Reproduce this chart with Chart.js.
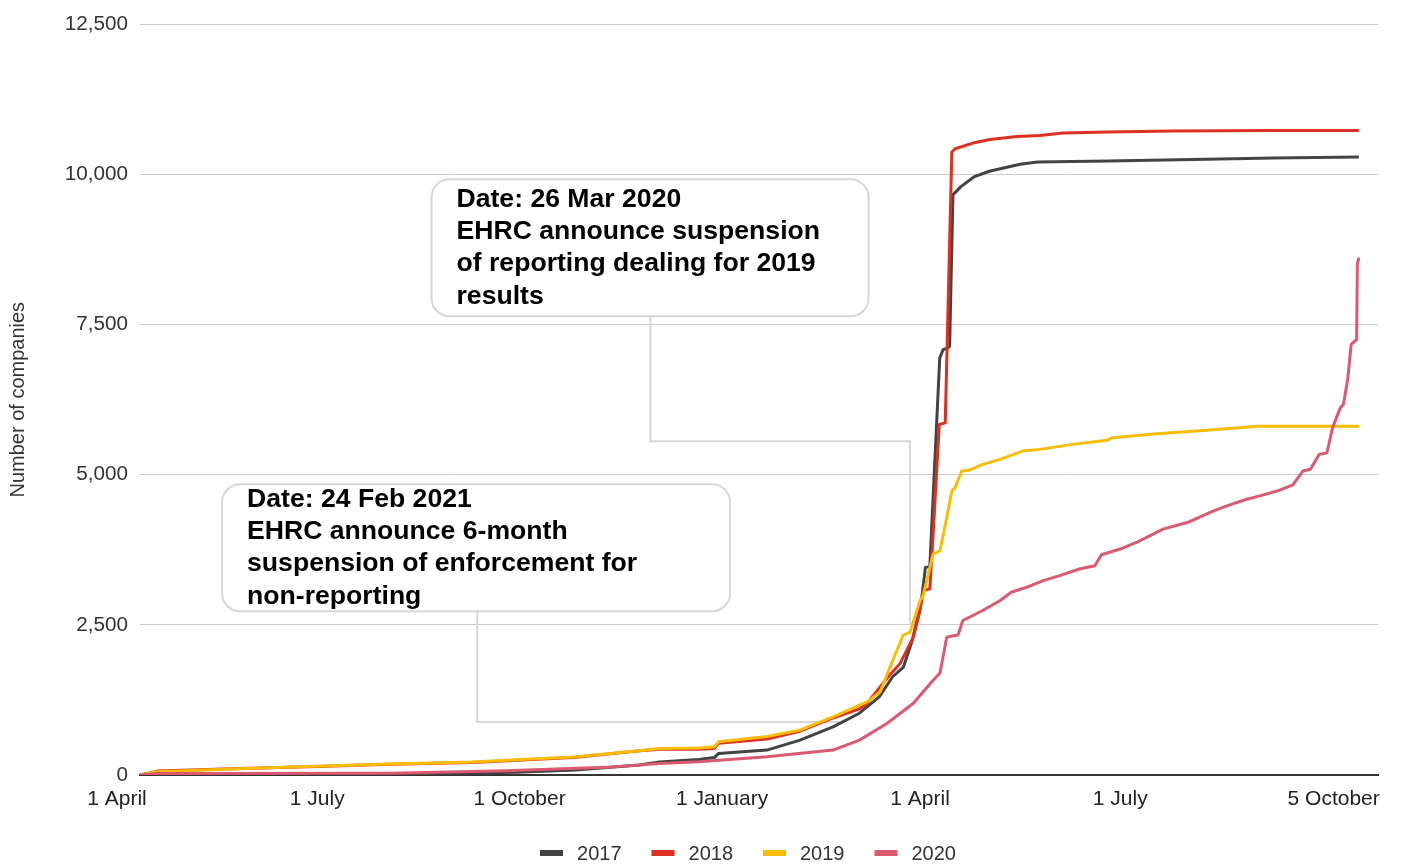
<!DOCTYPE html>
<html>
<head>
<meta charset="utf-8">
<title>Companies reporting by year</title>
<script src="https://cdn.jsdelivr.net/npm/chart.js@4.4.1/dist/chart.umd.min.js"></script>
<style>
  body { margin: 0; background: #fff; }
  canvas { display: block; }
</style>
</head>
<body>
<canvas id="chart" width="1401" height="865"></canvas>
<script>
// Days since 1 April of the reporting year, and running total of companies that had reported
const days2017 = [0, 20, 114, 171, 198, 227, 236, 254, 261, 263, 285, 300, 315, 327, 336, 342, 347, 351, 355, 357, 359, 363.5, 365, 367, 368, 369.5, 373, 379, 386, 400, 408, 440, 485, 515, 554];
const count2017 = [0, 5, 15, 45, 85, 166, 215, 260, 290, 360, 415, 581, 802, 1029, 1300, 1632, 1798, 2241, 2855, 3458, 3470, 6944, 7083, 7110, 7140, 9661, 9794, 9960, 10055, 10172, 10209, 10226, 10254, 10276, 10292];

const days2018 = [0, 8, 38, 76, 114, 151, 171, 197, 226, 236, 254, 261, 263, 285, 300, 315, 327, 330.5, 339.5, 345.5, 351.5, 354.5, 356, 359, 360.5, 363.3, 366, 369, 370.5, 378.6, 386.4, 398.6, 409, 419.5, 439.5, 469.5, 515, 554];
const count2018 = [0, 65, 100, 138, 177, 210, 245, 290, 400, 430, 430, 440, 530, 600, 730, 950, 1100, 1195, 1610, 1859, 2296, 2739, 3071, 3099, 4017, 5838, 5865, 10375, 10430, 10524, 10585, 10634, 10651, 10690, 10707, 10723, 10734, 10734];

const days2019 = [0, 8, 38, 76, 114, 151, 171, 197, 226, 236, 254, 261, 263, 285, 300, 315, 330.5, 336.4, 340.9, 346.8, 350, 354.5, 356, 360.5, 363.6, 366.7, 369, 370.5, 373.5, 376.8, 383, 391, 401, 409, 424, 439.5, 442, 462, 485, 508, 554];
const count2019 = [0, 55, 95, 140, 183, 215, 255, 300, 400, 443, 450, 465, 553, 640, 747, 968, 1217, 1383, 1798, 2324, 2379, 2900, 2990, 3680, 3735, 4288, 4731, 4786, 5063, 5074, 5174, 5257, 5395, 5423, 5506, 5573, 5617, 5684, 5740, 5810, 5810];

const days2020 = [0, 8, 114, 166, 212, 236, 254, 285, 315, 327, 339.5, 351.4, 360.5, 363.6, 366.7, 370.5, 371.8, 374, 383, 391, 396, 403, 410.5, 418, 427, 434, 437, 445.5, 454.5, 465, 476, 488, 494, 503, 509, 518, 524, 528.6, 532, 536, 539.5, 542, 545.5, 547, 549, 550.5, 553, 553.3, 554];
const count2020 = [0, 25, 30, 72, 127, 193, 221, 304, 415, 581, 858, 1190, 1577, 1700, 2296, 2324, 2330, 2573, 2739, 2905, 3043, 3126, 3237, 3320, 3431, 3486, 3669, 3763, 3901, 4095, 4205, 4399, 4482, 4593, 4648, 4743, 4831, 5063, 5091, 5340, 5367, 5777, 6110, 6175, 6612, 7171, 7254, 8500, 8615];

const tickDays = [0, 91, 183, 275, 365, 456, 553];
const tickLabels = ['1 April', '1 July', '1 October', '1 January', '1 April', '1 July', '5 October'];

const FONT = '"Liberation Sans", Arial, sans-serif';
Chart.defaults.font.family = FONT;

// Callout boxes with an elbow connector down to the curve
const callouts = [
  {
    lines: ['Date: 26 Mar 2020', 'EHRC announce suspension', 'of reporting dealing for 2019', 'results'],
    box: { day: 132.5, count: 9920, width: 437, height: 137 },
    stemDay: 232, elbowCount: 5560,
    target: { day: 350, count: 2500 }
  },
  {
    lines: ['Date: 24 Feb 2021', 'EHRC announce 6-month', 'suspension of enforcement for', 'non-reporting'],
    box: { day: 37.3, count: 4842, width: 508, height: 127 },
    stemDay: 153.3, elbowCount: 883,
    target: { day: 318, count: 883 }
  }
];

function points(days, counts) {
  return days.map((d, i) => ({ x: d, y: counts[i] }));
}

const calloutPlugin = {
  id: 'callouts',
  beforeDatasetsDraw(chart) {
    const { ctx } = chart;
    const xs = chart.scales.x;
    const ys = chart.scales.y;
    ctx.save();
    callouts.forEach(c => {
      const left = xs.getPixelForValue(c.box.day);
      const top = ys.getPixelForValue(c.box.count);
      const stemX = xs.getPixelForValue(c.stemDay);
      const elbowY = ys.getPixelForValue(c.elbowCount);
      const tx = xs.getPixelForValue(c.target.day);
      const ty = ys.getPixelForValue(c.target.count);

      ctx.strokeStyle = '#d6d6d6';
      ctx.lineWidth = 2;
      ctx.beginPath();
      ctx.moveTo(stemX, top + c.box.height);
      ctx.lineTo(stemX, elbowY);
      ctx.lineTo(tx, elbowY);
      ctx.lineTo(tx, ty);
      ctx.stroke();

      ctx.beginPath();
      ctx.roundRect(left, top, c.box.width, c.box.height, 18);
      ctx.fillStyle = '#fff';
      ctx.fill();
      ctx.stroke();

      ctx.fillStyle = '#000';
      ctx.font = 'bold 26.6px ' + FONT;
      ctx.textBaseline = 'middle';
      ctx.textAlign = 'left';
      const lineH = 32.3;
      const firstY = top + c.box.height / 2 - lineH * (c.lines.length - 1) / 2;
      c.lines.forEach((t, i) => ctx.fillText(t, left + 25, firstY + i * lineH));
    });
    ctx.restore();
  }
};

// Legend row under the axis: short thick swatch then the year
const legendPlugin = {
  id: 'bottomLegend',
  afterDraw(chart) {
    const { ctx, chartArea } = chart;
    ctx.save();
    ctx.font = '20px ' + FONT;
    ctx.textBaseline = 'middle';
    ctx.textAlign = 'left';
    const items = chart.data.datasets.map(ds => ({
      label: ds.label,
      color: ds.borderColor,
      w: 23 + 14 + ctx.measureText(ds.label).width
    }));
    const gap = 30;
    const total = items.reduce((s, it) => s + it.w, 0) + gap * (items.length - 1);
    let x = (chartArea.left + chartArea.right) / 2 - 11 - total / 2;
    const y = 853;
    items.forEach(it => {
      ctx.fillStyle = it.color;
      ctx.fillRect(x, y - 3, 23, 6);
      ctx.fillStyle = '#333';
      ctx.fillText(it.label, x + 37, y + 1);
      x += it.w + gap;
    });
    ctx.restore();
  }
};

new Chart(document.getElementById('chart'), {
  type: 'line',
  data: {
    datasets: [
      { label: '2017', data: points(days2017, count2017), borderColor: '#434343', order: 4 },
      { label: '2018', data: points(days2018, count2018), borderColor: '#dc3020', order: 3 },
      { label: '2019', data: points(days2019, count2019), borderColor: '#fbbc04', order: 2 },
      { label: '2020', data: points(days2020, count2020), borderColor: '#db5a70', order: 1 }
    ]
  },
  options: {
    responsive: false,
    animation: false,
    layout: { padding: { top: 22, right: 23, bottom: 0, left: 0 } },
    elements: {
      line: { borderWidth: 3, tension: 0, borderJoinStyle: 'round' },
      point: { radius: 0 }
    },
    plugins: {
      legend: { display: false },
      tooltip: { enabled: false }
    },
    scales: {
      x: {
        type: 'linear',
        min: 0,
        max: 562.7,
        afterBuildTicks: scale => { scale.ticks = tickDays.map(v => ({ value: v })); },
        afterFit: scale => { scale.height = 90; scale.paddingLeft = 0; scale.paddingRight = 0; },
        grid: { display: false, drawTicks: false },
        border: { color: '#333', width: 2 },
        ticks: {
          autoSkip: false,
          maxRotation: 0,
          padding: 12,
          labelOffset: -23,
          color: '#222',
          font: { size: 21 },
          callback: (v, i) => tickLabels[i]
        }
      },
      y: {
        min: 0,
        max: 12500,
        afterFit: scale => { scale.width = 140; },
        grid: { color: '#cccccc', drawTicks: false },
        border: { display: false },
        ticks: {
          stepSize: 2500,
          padding: 12,
          color: '#333',
          font: { size: 20.7 },
          callback: v => v.toLocaleString('en-US')
        },
        title: {
          display: true,
          text: 'Number of companies',
          color: '#333',
          font: { size: 20 },
          padding: { top: 6, bottom: 0 }
        }
      }
    }
  },
  plugins: [calloutPlugin, legendPlugin]
});
</script>
</body>
</html>
